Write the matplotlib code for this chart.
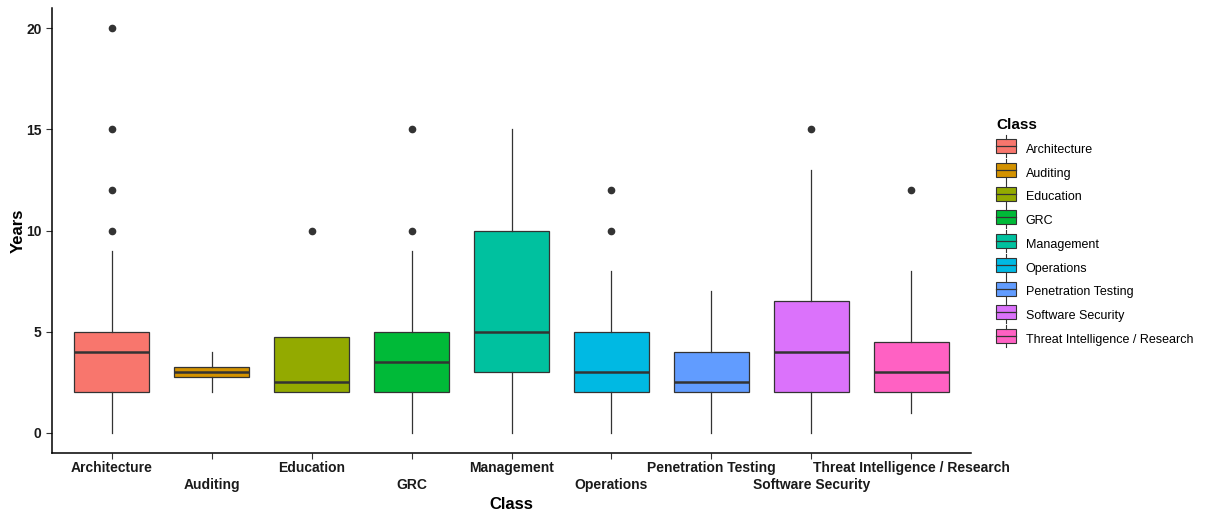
import matplotlib.pyplot as plt
from matplotlib.patches import Rectangle
from matplotlib.lines import Line2D
from matplotlib.legend_handler import HandlerBase

plt.rcParams['font.family'] = ['Liberation Sans', 'DejaVu Sans']

classes = ['Architecture', 'Auditing', 'Education', 'GRC', 'Management',
           'Operations', 'Penetration Testing', 'Software Security',
           'Threat Intelligence / Research']
colors = ['#F8766D', '#D39200', '#93AA00', '#00BA38', '#00C19F',
          '#00B9E3', '#619CFF', '#DB72FB', '#FF61C3']

# box stats
q1 = [2, 2.75, 2, 2, 3, 2, 2, 2, 2]
med = [4, 3, 2.5, 3.5, 5, 3, 2.5, 4, 3]
q3 = [5, 3.25, 4.75, 5, 10, 5, 4, 6.5, 4.5]
wlo = [0, 2, 2, 0, 0, 0, 0, 0, 1]
whi = [9, 4, 4.75, 9, 15, 8, 7, 13, 8]
outliers = [[10, 12, 15, 20], [], [10], [10, 15], [], [10, 12], [], [15], [12]]

stats = []
for i in range(len(classes)):
    stats.append({'label': classes[i], 'q1': q1[i], 'med': med[i], 'q3': q3[i],
                  'whislo': wlo[i], 'whishi': whi[i], 'fliers': outliers[i]})

fig = plt.figure(figsize=(12.06, 5.14), dpi=100)
ax = fig.add_axes([52/1206, 1-453/514, (971-52)/1206, (453-8)/514])

pos = list(range(1, len(classes) + 1))
bp = ax.bxp(stats, positions=pos, widths=0.75, patch_artist=True, showcaps=False,
            boxprops=dict(edgecolor='#333333', linewidth=0.9),
            medianprops=dict(color='#333333', linewidth=1.8),
            whiskerprops=dict(color='#333333', linewidth=0.9),
            flierprops=dict(marker='o', markerfacecolor='#333333', markeredgecolor='#333333',
                            markersize=4.5))
for patch, c in zip(bp['boxes'], colors):
    patch.set_facecolor(c)

ax.set_xlim(0.4, 9.6)
ax.set_ylim(-1, 21)
ax.set_yticks([0, 5, 10, 15, 20])
ax.set_xticks(pos)
ax.set_xticklabels([])
for i, name in enumerate(classes):
    dy = -0.033 if i % 2 == 0 else -0.073
    ax.text(pos[i], dy, name, transform=ax.get_xaxis_transform(), ha='center', va='center',
            fontsize=10, fontweight='bold', color='#1a1a1a')
ax.tick_params(axis='y', labelsize=10, length=4, colors='#333333', labelcolor='#1a1a1a')
ax.tick_params(axis='x', length=4, colors='#333333')
for t in ax.get_yticklabels():
    t.set_fontweight('bold')
for s in ['top', 'right']:
    ax.spines[s].set_visible(False)
ax.spines['left'].set_linewidth(1.1)
ax.spines['bottom'].set_linewidth(1.1)
ax.set_ylabel('Years', fontsize=12, fontweight='bold')
ax.yaxis.set_label_coords(-0.029, 0.5)
ax.text(5, -0.115, 'Class', transform=ax.get_xaxis_transform(), ha='center', va='center',
        fontsize=12, fontweight='bold')


class BoxKey(HandlerBase):
    def create_artists(self, legend, orig, xd, yd, w, h, fontsize, trans):
        r = Rectangle((xd, yd - 1), w, h + 2, facecolor=orig.get_facecolor(),
                      edgecolor='#333333', linewidth=0.8, transform=trans)
        m = Line2D([xd, xd + w], [yd + h / 2, yd + h / 2], color='#333333', linewidth=0.9, transform=trans)
        v1 = Line2D([xd + w / 2, xd + w / 2], [yd + h + 1, yd + h + 4], color='#333333', linewidth=0.8, transform=trans)
        v2 = Line2D([xd + w / 2, xd + w / 2], [yd - 1, yd - 4], color='#333333', linewidth=0.8, transform=trans)
        return [r, m, v1, v2]


handles = [Rectangle((0, 0), 1, 1, facecolor=c) for c in colors]
leg = fig.legend(handles, classes, handler_map={Rectangle: BoxKey()}, title='Class',
                 loc='upper left', bbox_to_anchor=(985/1206, 1-107/514), frameon=False,
                 fontsize=9, handlelength=1.6, handleheight=1.0, labelspacing=0.87,
                 handletextpad=0.75, alignment='left')
leg.get_title().set_fontweight('bold')
leg.get_title().set_fontsize(11)

fig.savefig('out.png', dpi=100)
